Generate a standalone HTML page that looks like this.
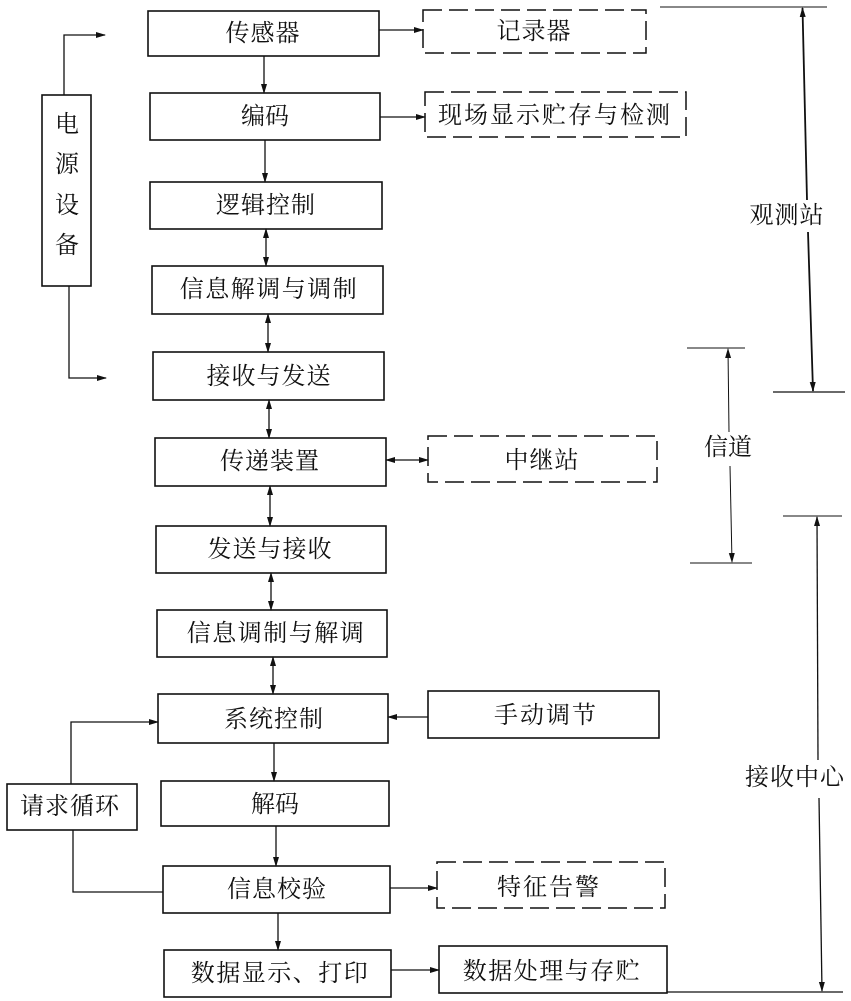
<!DOCTYPE html>
<html><head><meta charset="utf-8"><style>
html,body{margin:0;padding:0;background:#fff;}
svg{display:block;}
text{font-family:"Liberation Serif","Noto Serif CJK SC",serif;font-size:24px;fill:#111;dominant-baseline:central;text-anchor:middle;}
</style></head><body>
<svg width="851" height="1001" viewBox="0 0 851 1001" xmlns="http://www.w3.org/2000/svg">
<defs>
<marker id="a" markerWidth="10" markerHeight="8" refX="9" refY="4" orient="auto" markerUnits="userSpaceOnUse"><path d="M0,1 L10,4 L0,7 Z" fill="#111"/></marker>
<marker id="s" markerWidth="10" markerHeight="8" refX="1" refY="4" orient="auto" markerUnits="userSpaceOnUse"><path d="M10,1 L0,4 L10,7 Z" fill="#111"/></marker>
</defs>
<g fill="none" stroke="#111" stroke-width="1.6">
<!-- solid boxes -->
<rect x="148" y="11" width="231" height="45"/>
<rect x="150" y="93" width="230" height="47"/>
<rect x="150" y="182" width="232" height="47"/>
<rect x="152" y="266" width="231" height="48"/>
<rect x="153" y="352" width="231" height="48"/>
<rect x="155" y="438" width="231" height="48"/>
<rect x="156" y="526" width="230" height="47"/>
<rect x="157" y="610" width="230" height="47"/>
<rect x="158" y="694" width="230" height="49"/>
<rect x="161" y="781" width="228" height="45"/>
<rect x="163" y="866" width="227" height="47"/>
<rect x="164" y="950" width="227" height="47"/>
<rect x="42" y="95" width="49" height="191"/>
<rect x="7" y="784" width="130" height="46"/>
<rect x="428" y="691" width="231" height="47"/>
<rect x="439" y="946" width="228" height="47"/>
</g>
<g fill="none" stroke="#111" stroke-width="1.5" stroke-dasharray="19,7">
<rect x="423" y="10" width="223" height="43"/>
<rect x="425" y="92" width="261" height="45"/>
<rect x="428" y="436" width="229" height="46"/>
<rect x="437" y="862" width="228" height="46"/>
</g>
<g fill="none" stroke="#111" stroke-width="1.3">
<!-- vertical main connectors -->
<line x1="264" y1="56" x2="264" y2="93" marker-end="url(#a)"/>
<line x1="265" y1="140" x2="265" y2="182" marker-end="url(#a)"/>
<line x1="266" y1="229" x2="266" y2="266" marker-start="url(#s)" marker-end="url(#a)"/>
<line x1="268" y1="314" x2="268" y2="352" marker-start="url(#s)" marker-end="url(#a)"/>
<line x1="269" y1="400" x2="269" y2="438" marker-start="url(#s)" marker-end="url(#a)"/>
<line x1="270" y1="486" x2="270" y2="526" marker-start="url(#s)" marker-end="url(#a)"/>
<line x1="271" y1="573" x2="271" y2="610" marker-start="url(#s)" marker-end="url(#a)"/>
<line x1="273" y1="657" x2="273" y2="694" marker-start="url(#s)" marker-end="url(#a)"/>
<line x1="274" y1="743" x2="274" y2="781" marker-end="url(#a)"/>
<line x1="276" y1="826" x2="276" y2="866" marker-end="url(#a)"/>
<line x1="278" y1="913" x2="278" y2="950" marker-end="url(#a)"/>
<!-- horizontal side connectors -->
<line x1="379" y1="30" x2="423" y2="30" marker-end="url(#a)"/>
<line x1="380" y1="117" x2="425" y2="117" marker-end="url(#a)"/>
<line x1="386" y1="460" x2="428" y2="460" marker-start="url(#s)" marker-end="url(#a)"/>
<line x1="428" y1="717" x2="388" y2="717" marker-end="url(#a)"/>
<line x1="390" y1="888" x2="437" y2="888" marker-end="url(#a)"/>
<line x1="391" y1="970" x2="439" y2="970" marker-end="url(#a)"/>
<!-- power -->
<polyline points="64,95 64,35 105,35" marker-end="url(#a)"/>
<polyline points="69,286 69,378 106,378" marker-end="url(#a)"/>
<!-- request loop -->
<polyline points="71,784 71,722 158,722" marker-end="url(#a)"/>
<polyline points="73,830 73,892 163,892"/>
</g>
<g fill="none" stroke="#111">
<!-- 观测站 -->
<line x1="660" y1="7" x2="827" y2="7" stroke-width="1"/>
<line x1="802.5" y1="8" x2="807" y2="200" stroke-width="1.8" marker-start="url(#s)"/>
<line x1="808" y1="232" x2="813" y2="391" stroke-width="1.8" marker-end="url(#a)"/>
<line x1="773" y1="392" x2="845" y2="392" stroke-width="1.3"/>
<!-- 信道 -->
<line x1="687" y1="348" x2="745" y2="348" stroke-width="1"/>
<line x1="728" y1="349" x2="729" y2="432" stroke-width="1" marker-start="url(#s)"/>
<line x1="730" y1="466" x2="732" y2="562" stroke-width="1" marker-end="url(#a)"/>
<line x1="690" y1="563" x2="752" y2="563" stroke-width="1"/>
<!-- 接收中心 -->
<line x1="783" y1="516" x2="842" y2="516" stroke-width="1"/>
<line x1="817" y1="517" x2="818" y2="760" stroke-width="1.3" marker-start="url(#s)"/>
<line x1="819" y1="798" x2="822" y2="991" stroke-width="1.3" marker-end="url(#a)"/>
<line x1="667" y1="992" x2="843" y2="992" stroke-width="1.3"/>
</g>
<g>
<text x="263" y="34" letter-spacing="1">传感器</text>
<text x="265" y="117">编码</text>
<text x="266" y="206" letter-spacing="1">逻辑控制</text>
<text x="269" y="290" letter-spacing="1.5">信息解调与调制</text>
<text x="269" y="377" letter-spacing="1">接收与发送</text>
<text x="270" y="462" letter-spacing="1">传递装置</text>
<text x="270" y="550" letter-spacing="1">发送与接收</text>
<text x="276" y="634" letter-spacing="1.5">信息调制与解调</text>
<text x="274" y="720" letter-spacing="1">系统控制</text>
<text x="275" y="805">解码</text>
<text x="277" y="890" letter-spacing="1">信息校验</text>
<text x="280" y="974" letter-spacing="1.5">数据显示、打印</text>
<text x="534" y="32" letter-spacing="1">记录器</text>
<text x="555" y="116" letter-spacing="2">现场显示贮存与检测</text>
<text x="542" y="461" letter-spacing="1">中继站</text>
<text x="546" y="716" letter-spacing="2">手动调节</text>
<text x="549" y="888" letter-spacing="2">特征告警</text>
<text x="552" y="972" letter-spacing="1.5">数据处理与存贮</text>
<text x="67" y="125">电</text>
<text x="67" y="165">源</text>
<text x="67" y="206">设</text>
<text x="67" y="246">备</text>
<text x="70" y="807" letter-spacing="1">请求循环</text>
<text x="787" y="216" letter-spacing="1">观测站</text>
<text x="728" y="448">信道</text>
<text x="795" y="778" letter-spacing="1">接收中心</text>
</g>
</svg>
</body></html>
